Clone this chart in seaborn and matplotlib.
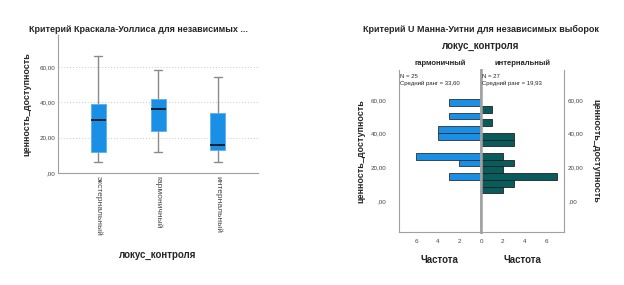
import numpy as np
import pandas as pd
import matplotlib
matplotlib.use("Agg")
import matplotlib.pyplot as plt
import seaborn as sns

# ---- data ----
# five-number summaries per group (min whisker, q1, median, q3, max whisker)
groups = ["экстернальный", "гармоничный", "интернальный"]
ext_vals = [6, 12, 30, 39, 66]
garm_vals = [12, 24, 36, 42, 58]
int_vals = [6, 13, 16, 34, 54]

# histogram bins (centres) and frequencies for the Mann-Whitney pyramid
bin_centers = [6.5, 10.5, 14.5, 18.5, 22.5, 26.5, 30.5, 34.5, 38.5, 42.5, 46.5, 50.5, 54.5, 58.5]
garm_counts = [0, 0, 3, 0, 2, 6, 0, 0, 4, 4, 0, 3, 0, 3]
int_counts = [2, 3, 7, 2, 3, 2, 0, 3, 3, 0, 1, 0, 1, 0]
ticks_y = [0, 20, 40, 60]
tick_labels_y = [",00", "20,00", "40,00", "60,00"]

BLUE = "#1a8fe6"
TEAL = "#0a5c5c"
GRAY = "#a0a0a0"

sns.set_theme(style="white")
plt.rcParams["font.family"] = ["Liberation Sans", "DejaVu Sans"]

fig = plt.figure(figsize=(6.24, 2.85), dpi=100)

# ---------------- Kruskal-Wallis boxplot ----------------
df_box = pd.DataFrame({
    "locus": np.repeat(groups, 5),
    "value": ext_vals + garm_vals + int_vals,
})
ax = fig.add_axes([0.093, 0.393, 0.3205, 0.484])
sns.boxplot(data=df_box, x="locus", y="value", ax=ax, width=0.25,
            color=BLUE, saturation=1, whis=1.5, fliersize=0,
            boxprops=dict(edgecolor="#5db0f0", linewidth=0.6),
            medianprops=dict(color="#101820", linewidth=1.3),
            whiskerprops=dict(color="#8a8a8a", linewidth=1.0),
            capprops=dict(color="#8a8a8a", linewidth=1.0))
ax.set_xlim(-0.67, 2.67)
ax.set_ylim(0, 78)
ax.set_yticks(ticks_y)
ax.set_yticklabels(tick_labels_y, fontsize=4.5, color="#444444")
for y in ticks_y[1:]:
    ax.axhline(y, color="#c8c8c8", linestyle=(0, (1, 2)), linewidth=0.7, zorder=0)
ax.set_xticks(range(3))
ax.set_xticklabels(groups, rotation=-90, fontsize=6, color="#444444", va="top")
ax.tick_params(length=0, pad=2)
for s in ["top", "right"]:
    ax.spines[s].set_visible(False)
for s in ["left", "bottom"]:
    ax.spines[s].set_color(GRAY)
    ax.spines[s].set_linewidth(0.8)
ax.set_xlabel("локус_контроля", fontsize=7, fontweight="bold", labelpad=10)
ax.set_ylabel("ценность_доступность", fontsize=6.5, fontweight="bold", labelpad=6)
fig.text(0.047, 0.898, "Критерий Краскала-Уоллиса для независимых ...",
         fontsize=6.5, fontweight="bold", ha="left", va="center")

# ---------------- Mann-Whitney pyramid ----------------
axl = fig.add_axes([0.639, 0.186, 0.132, 0.568])
axr = fig.add_axes([0.771, 0.186, 0.1325, 0.568])
df_l = pd.DataFrame({"bin": bin_centers, "n": garm_counts})
df_r = pd.DataFrame({"bin": bin_centers, "n": int_counts})
sns.barplot(data=df_l, x="n", y="bin", orient="h", native_scale=True, ax=axl,
            color=BLUE, saturation=1, width=1.0, edgecolor="#303030", linewidth=0.6)
sns.barplot(data=df_r, x="n", y="bin", orient="h", native_scale=True, ax=axr,
            color=TEAL, saturation=1, width=1.0, edgecolor="#202020", linewidth=0.6)

for a in (axl, axr):
    a.set_ylim(-18.4, 77.7)
    a.set_xlim(0, 7.6)
    a.set_yticks(ticks_y)
    a.set_xticks([0, 2, 4, 6])
    a.tick_params(length=0, pad=5)
    a.spines["top"].set_visible(False)
    for s in ["left", "right", "bottom"]:
        a.spines[s].set_color(GRAY)
        a.spines[s].set_linewidth(0.8)
    a.set_xlabel("Частота", fontsize=7, fontweight="bold", labelpad=8)
    a.set_ylabel("")
    a.grid(False)

axl.set_xticklabels(["", "2", "4", "6"], fontsize=4.5, color="#444444")
axr.set_xticklabels(["0", "2", "4", "6"], fontsize=4.5, color="#444444")
axl.invert_xaxis()
axl.spines["right"].set_linewidth(1.8)
axr.spines["left"].set_linewidth(1.8)
axl.set_yticklabels(tick_labels_y, fontsize=4.5, color="#444444")
axl.tick_params(axis="y", pad=9)
axl.set_ylabel("ценность_доступность", fontsize=6.5, fontweight="bold", labelpad=4)
axr.yaxis.tick_right()
axr.set_yticklabels(tick_labels_y, fontsize=4.5, color="#444444")
axr.tick_params(axis="y", pad=3)
axr.yaxis.set_label_position("right")
axr.set_ylabel("ценность_доступность", fontsize=6.5, fontweight="bold",
               rotation=-90, labelpad=12)

axl.text(0.01, 0.975, "N = 25\nСредний ранг = 33,60", transform=axl.transAxes,
         fontsize=4.3, va="top", ha="left", linespacing=1.4)
axr.text(0.01, 0.975, "N = 27\nСредний ранг = 19,93", transform=axr.transAxes,
         fontsize=4.3, va="top", ha="left", linespacing=1.4)
axl.set_title("гармоничный", fontsize=5.5, fontweight="bold", pad=4)
axr.set_title("интернальный", fontsize=5.5, fontweight="bold", pad=4)

fig.text(0.770, 0.898, "Критерий U Манна-Уитни для независимых выборок",
         fontsize=6.5, fontweight="bold", ha="center", va="center")
fig.text(0.770, 0.838, "локус_контроля", fontsize=7, fontweight="bold",
         ha="center", va="center")

fig.savefig("out.png", dpi=100)
